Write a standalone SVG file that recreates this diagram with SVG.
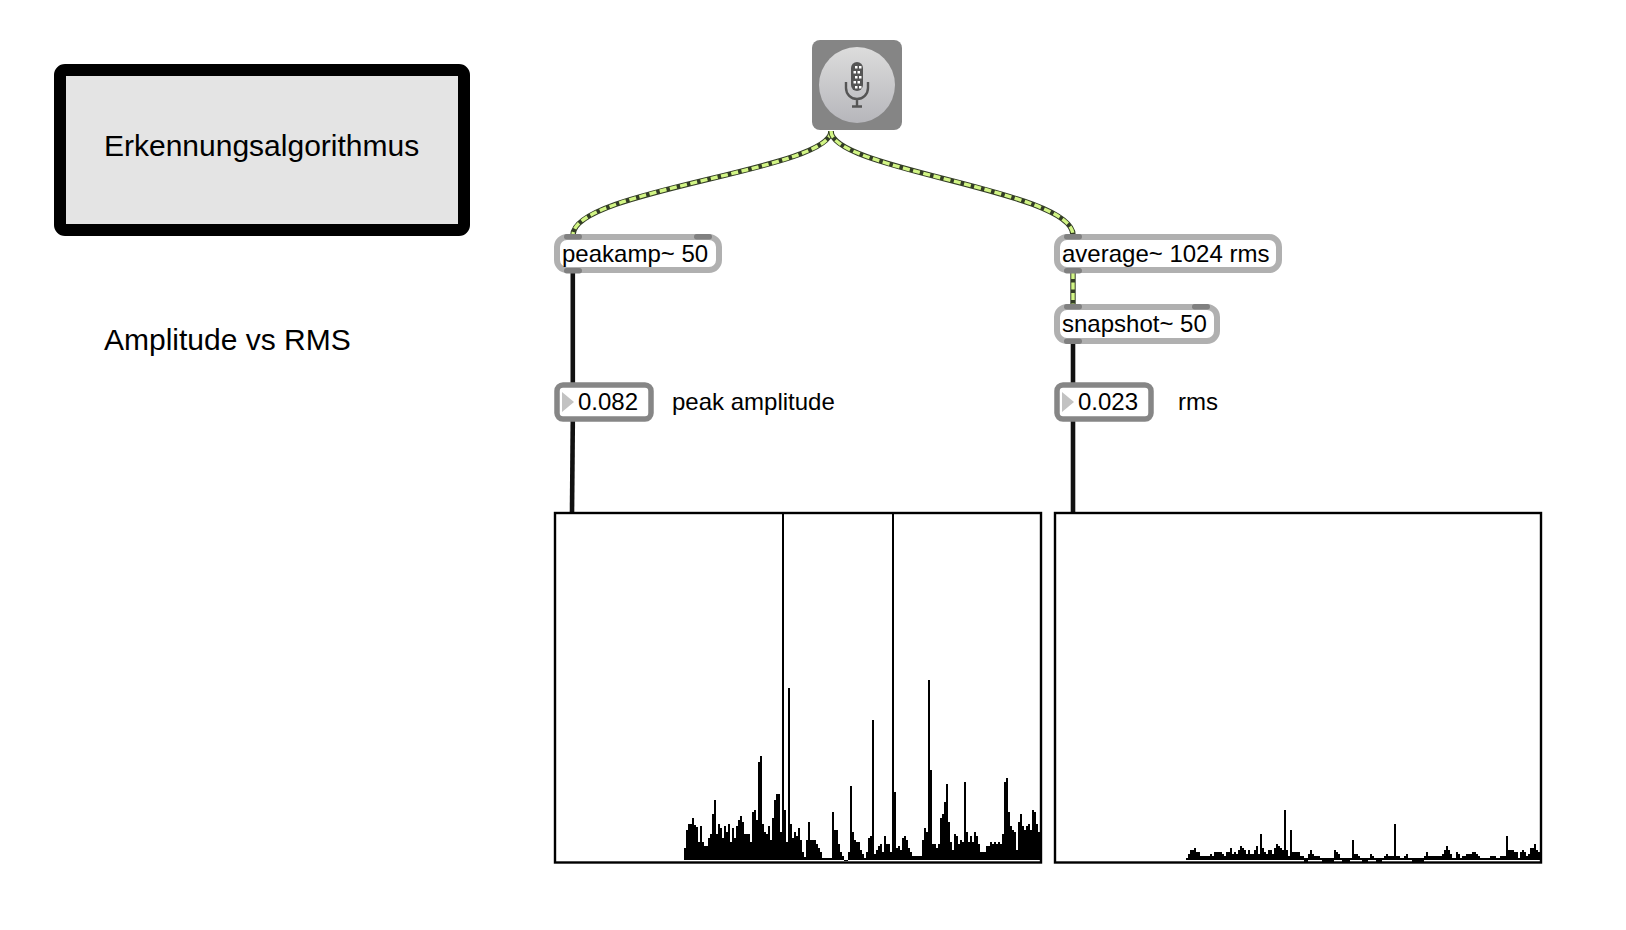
<svg xmlns="http://www.w3.org/2000/svg" width="1626" height="930" viewBox="0 0 1626 930">
<style>
text{font-family:"Liberation Sans",Arial,sans-serif;font-size:24px;fill:#000}
.big{font-size:30px}
.obj{fill:#fff;stroke:#b0b0b0;stroke-width:6}
.num{fill:#fff;stroke:#868686;stroke-width:5.500}
.port{fill:#808080}
.tri{fill:#c2c2c2}
.plot{fill:#fff;stroke:#000;stroke-width:2.4}
.bars{fill:#000;stroke:none}
.wd{fill:none;stroke:#333d26;stroke-width:5.400}
.wg{fill:none;stroke:#d2f585;stroke-width:3.400;stroke-dasharray:7 3.500}
.wb{fill:none;stroke:#111;stroke-width:4.600}
</style>
<defs>
<linearGradient id="micg" x1="0" y1="0" x2="0" y2="1"><stop offset="0" stop-color="#dcdcdc"/><stop offset="1" stop-color="#b6b6bb"/></linearGradient>
<rect id="pt" class="port" width="18" height="5.500" rx="2.700"/>
</defs>
<g id="connectors">
<path class="wd" d="M831 131C831 170 573 190 573 235"/>
<path class="wg" d="M831 131C831 170 573 190 573 235"/>
<path class="wd" d="M831 131C831 170 1073 190 1073 235"/>
<path class="wg" d="M831 131C831 170 1073 190 1073 235"/>
<path class="wd" d="M1073 272V305"/>
<path class="wg" d="M1073 272V305"/>
<path class="wb" d="M572.800 272V383"/>
<path class="wb" d="M572.800 421L572 513"/>
<path class="wb" d="M1073 343V383"/>
<path class="wb" d="M1073 421V513"/>
</g>
<g id="title-box">
<rect x="60" y="70" width="404" height="160" rx="5" fill="#e4e4e4" stroke="#000" stroke-width="12"/>
<text class="big" x="104" y="156">Erkennungsalgorithmus</text>
</g>
<g id="subtitle"><text class="big" x="104" y="350">Amplitude vs RMS</text></g>
<g id="mic">
<rect x="812" y="40" width="90" height="90" rx="8" fill="#858585"/>
<circle cx="857" cy="85" r="38" fill="url(#micg)"/>
<rect x="851" y="62" width="12" height="29" rx="6" fill="#555"/>
<g fill="#fff"><rect x="855" y="66" width="2.500" height="2.500"/><rect x="859" y="66" width="2.500" height="2.500"/><rect x="853.500" y="71" width="2.500" height="2.500"/><rect x="857.500" y="71" width="2.500" height="2.500"/><rect x="855" y="76" width="2.500" height="2.500"/><rect x="859" y="76" width="2.500" height="2.500"/><rect x="853.500" y="81" width="2.500" height="2.500"/><rect x="857.500" y="81" width="2.500" height="2.500"/><rect x="855" y="86" width="2.500" height="2.500"/><rect x="859" y="86" width="2.500" height="2.500"/></g>
<path d="M846 82V88A11 11 0 0 0 868 88V82M857 99V106.500M852 106.500H862" fill="none" stroke="#555" stroke-width="2.400"/>
</g>
<g id="peakamp">
<rect class="obj" x="557" y="237" width="162" height="33" rx="10"/>
<use href="#pt" x="564" y="234"/><use href="#pt" x="694" y="234"/><use href="#pt" x="564" y="268"/>
<text x="562" y="262">peakamp~ 50</text>
</g>
<g id="average">
<rect class="obj" x="1057" y="237" width="222" height="33" rx="10"/>
<use href="#pt" x="1064" y="234"/><use href="#pt" x="1064" y="268"/>
<text x="1062" y="262">average~ 1024 rms</text>
</g>
<g id="snapshot">
<rect class="obj" x="1057" y="307" width="160" height="34" rx="10"/>
<use href="#pt" x="1064" y="304"/><use href="#pt" x="1192" y="304"/><use href="#pt" x="1064" y="338.500"/>
<text x="1062" y="332">snapshot~ 50</text>
</g>
<g id="peak-number">
<rect class="num" x="557" y="385" width="94" height="34" rx="6"/>
<path class="tri" d="M562 392L574 402L562 412Z"/>
<text x="578" y="410">0.082</text>
</g>
<g id="peak-label"><text x="672" y="410">peak amplitude</text></g>
<g id="rms-number">
<rect class="num" x="1057" y="385" width="94" height="34" rx="6"/>
<path class="tri" d="M1062 392L1074 402L1062 412Z"/>
<text x="1078" y="410">0.023</text>
</g>
<g id="rms-label"><text x="1178" y="410">rms</text></g>
<g id="plot-peak">
<rect class="plot" x="555" y="513" width="486" height="349.500"/>
<path class="bars" d="M684 860V848h2V830h2V824h4V818h2V825h2V827h2V842h2V826h2V842h2V846h4V838h2V834h2V814h2V800h2V834h2V824h2V828h2V838h2V826h2V832h2V824h2V842h2V828h2V838h2V826h2V820h2V816h2V822h2V834h6V842h2V812h2V810h2V820h2V762h2V756h2V824h2V832h2V834h2V826h2V840h2V818h2V800h2V794h4V832h2V512h2V810h2V842h2V688h2V824h2V838h2V832h2V836h2V828h2V840h2V852h2V857h2V840h2V822h2V840h6V844h2V848h2V852h2V858h10V812h2V830h4V844h2V852h2V856h2V861h4V852h2V786h2V832h2V840h2V842h4V850h2V854h2V858h2V852h2V838h2V836h2V720h2V854h2V850h2V846h2V844h2V852h2V836h2V844h4V852h2V512h2V792h2V848h2V846h2V850h2V838h2V836h2V840h2V848h2V852h2V856h10V840h2V828h2V832h2V680h2V770h2V844h4V848h2V844h2V818h2V814h2V802h2V784h2V822h2V842h2V850h2V834h2V836h2V844h2V840h2V842h2V782h2V832h2V842h2V836h2V842h2V832h2V836h2V844h2V852h6V846h4V842h2V844h2V842h2V844h2V842h2V844h2V834h2V782h2V778h2V812h2V826h2V830h2V832h2V850h2V822h2V814h2V826h2V830h2V826h2V824h2V830h2V810h2V812h2V824h2V832h2V860Z"/>
</g>
<g id="plot-rms">
<rect class="plot" x="1055" y="513" width="486" height="349.500"/>
<path class="bars" d="M1186 860V858h2V854h2V850h4V848h2V852h4V856h10V854h2V856h2V852h8V854h2V856h2V852h4V848h2V854h2V852h2V854h2V850h2V846h2V848h2V850h2V854h2V850h2V854h4V850h2V846h2V854h2V834h2V848h2V852h2V854h2V850h4V854h2V848h2V844h2V846h2V848h2V850h2V810h2V850h2V856h2V830h2V852h8V856h4V860h4V854h2V850h2V854h2V856h6V858h2V860h12V850h2V852h2V854h2V858h2V860h8V858h2V840h2V854h4V856h2V858h2V860h2V861h2V860h2V858h2V854h2V856h2V858h2V860h2V861h2V860h2V858h2V856h2V854h2V856h6V824h2V856h4V858h4V856h2V854h2V858h4V860h12V856h2V852h2V856h14V854h2V850h2V846h2V850h2V854h2V858h4V852h2V854h2V858h2V856h4V854h6V852h4V854h2V856h2V858h10V856h6V858h4V856h6V836h2V850h6V852h4V858h2V852h2V850h2V852h2V856h2V854h2V848h4V844h2V850h2V852h2V860Z"/>
<path class="bars" d="M1304 858h4v4h-4zM1322 858h12v4h-12zM1342 858h8v4h-8zM1362 858h6v4h-6zM1376 858h6v4h-6zM1412 858h12v4h-12z"/>
</g>
</svg>
